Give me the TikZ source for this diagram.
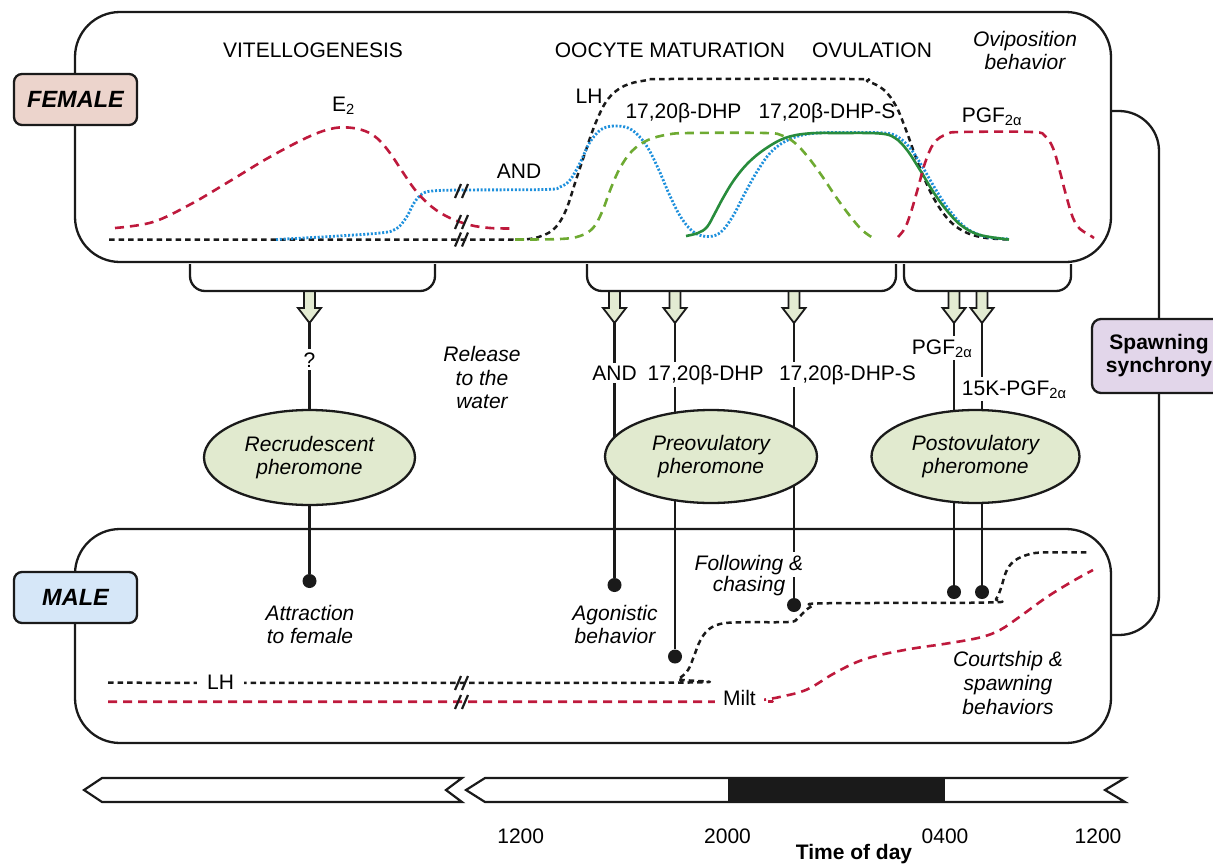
\documentclass[tikz,border=0pt]{standalone}
\usepackage{fontspec}
\setmainfont{Liberation Sans}
\usetikzlibrary{shapes.geometric}
\definecolor{ink}{HTML}{1A1A1A}
\definecolor{curvered}{HTML}{BE193C}
\definecolor{curveblue}{HTML}{1E90DC}
\definecolor{curvegreen}{HTML}{6EAA32}
\definecolor{curvedark}{HTML}{288C3C}
\definecolor{pherfill}{HTML}{E1EACF}
\definecolor{arrowfill}{HTML}{E3EBD2}
\definecolor{femfill}{HTML}{ECD4CC}
\definecolor{malefill}{HTML}{D6E7F8}
\definecolor{spawnfill}{HTML}{E2D6EA}
\begin{document}
\begin{tikzpicture}[x=1pt, y=-1pt, font=\fontsize{21}{23}\selectfont, line join=round,
  box/.style={draw=ink, line width=2.3pt, rounded corners=45pt, inner sep=0pt, minimum width=1036pt},
  tag/.style={draw=ink, line width=2.3pt, rounded corners=8pt, minimum width=123pt, minimum height=51pt,
    inner sep=0pt, font=\fontsize{23.5}{26}\selectfont\bfseries\itshape},
  pher/.style={ellipse, draw=ink, fill=pherfill, line width=2.3pt, inner sep=0pt, align=center,
    font=\fontsize{21}{22.3}\selectfont\itshape},
  lbl/.style={anchor=base, inner sep=0pt},
  cut/.style={anchor=base, fill=white, inner xsep=2pt, inner ysep=3pt},
  conn/.style={draw=ink, line width=2.3pt},
  hit/.style={circle, fill=ink, minimum size=14pt, inner sep=0pt},
  harrow/.style={draw=ink, fill=arrowfill, line width=1.8pt, line join=miter},
  bracket/.style={draw=ink, line width=2.3pt, rounded corners=15pt},
  redd/.style={draw=curvered, line width=2.6pt, dash pattern=on 9pt off 6pt},
  lhd/.style={draw=ink, line width=2.5pt, dash pattern=on 5.5pt off 4pt},
  blued/.style={draw=curveblue, line width=2.8pt, dash pattern=on 2pt off 1.8pt},
  greend/.style={draw=curvegreen, line width=2.6pt, dash pattern=on 9pt off 6pt},
  greens/.style={draw=curvedark, line width=2.6pt},
  brk/.style={draw=ink, line width=2.2pt},
  bar/.style={draw=ink, line width=2.2pt, line join=miter}]
\useasboundingbox (0,0) rectangle (1213,865);

% ---------- panels ----------
\node[box, minimum height=250pt] (fem) at (593,137) {};
\node[box, minimum height=214pt] (mal) at (593,636) {};
\node[tag, fill=femfill] (femtag) at (75.5,99.5) {FEMALE};
\node[tag, fill=malefill] (maltag) at (75.5,597.5) {MALE};

% ---------- female hormone profiles ----------
\draw[lhd] plot[smooth, tension=0.6] coordinates {(109,239.5) (461,239.5) (520,239.5) (540,236.5) (555,228) (566,210) (576,180) (586,150) (596,122) (608,99) (624,86) (645,80.5) (670,79) (850,79) (868,81.5) (884,90) (896,106) (906,130) (918,163) (932,195) (947,218) (963,231) (983,237.5) (1009,239.5)};
\draw[blued] plot[smooth, tension=0.6] coordinates {(276,239.5) (330,236.5) (380,233) (396,229) (406,218) (414,203) (422,194) (432,191) (461,190) (545,189.5) (560,187) (570,180) (580,163) (590,142) (602,129) (617,126) (632,130) (646,145) (658,168) (670,196) (682,219) (695,233) (709,236.5) (721,232) (733,216) (745,193) (758,170) (772,151) (790,139) (812,133.5) (845,132.5) (884,133) (898,137) (910,148) (922,166) (936,190) (950,211) (966,228) (985,236.5) (1009,239)};
\draw[greend] plot[smooth, tension=0.6] coordinates {(515,239.5) (560,239) (580,236) (593,228) (602,212) (611,188) (620,168) (632,151) (648,140) (668,134.5) (690,133) (765,133) (782,135.5) (795,143) (808,157) (822,176) (836,197) (850,216) (862,230) (873,238)};
\draw[greens] plot[smooth, tension=0.6] coordinates {(686,236) (698,233) (707,227) (715,213) (723,198) (734,180) (748,163) (765,149) (785,138) (808,133.5) (840,133) (880,133.5) (895,138) (907,150) (920,170) (934,193) (948,212) (962,226) (980,235) (1009,239.5)};
\draw[redd] plot[smooth, tension=0.6] coordinates {(115,228) (153,222) (191,204) (230,181) (268,158) (306,138) (330,129) (348,127.5) (365,131) (378,139) (390,153) (402,171) (416,191) (432,207) (450,218) (470,225) (490,228) (513,228.5)};
\draw[redd] plot[smooth, tension=0.6] coordinates {(898,237) (905,228) (911,212) (918,188) (925,163) (934,143) (947,134) (962,132) (1032,132) (1045,136) (1053,148) (1059,168) (1066,195) (1073,218) (1080,229) (1088,234) (1094,238)};
\foreach \y in {191,222,239.5} {
  \draw[brk] (455,\y+7) -- (461,\y-7);
  \draw[brk] (462,\y+7) -- (468,\y-7);
}

% ---------- female labels ----------
\node[lbl] (vit) at (313,57) {VITELLOGENESIS};
\node[lbl] (oocyte) at (670,57.3) {OOCYTE MATURATION};
\node[lbl] (ovul) at (872,57.3) {OVULATION};
\node[lbl, font=\fontsize{21}{23}\selectfont\itshape] (ovi1) at (1025,46.5) {Oviposition};
\node[lbl, font=\fontsize{21}{23}\selectfont\itshape] (ovi2) at (1025,69.5) {behavior};
\node[lbl] (lhF) at (589,103.3) {LH};
\node[lbl] (dhpF) at (683.5,118) {17,20β-DHP};
\node[lbl] (dhpsF) at (827,118) {17,20β-DHP-S};
\node[lbl, anchor=base west] (pgfF) at (961.6,122) {PGF\textsubscript{2α}};
\node[lbl, anchor=base west] (e2) at (332,111.7) {E\textsubscript{2}};
\node[lbl] (andF) at (519,178.3) {AND};

% ---------- brackets and release arrows ----------
\foreach \ax in {309.5,614.5,675,794,954,982}
  \draw[harrow] (\ax-5.5,291) -- (\ax-5.5,308) -- (\ax-11.5,308) -- (\ax,323) -- (\ax+11.5,308) -- (\ax+5.5,308) -- (\ax+5.5,291) -- cycle;
\draw[bracket] (190,264) -- (190,291) -- (435,291) -- (435,264);
\draw[bracket] (587,264) -- (587,291) -- (896,291) -- (896,264);
\draw[bracket] (904,264) -- (904,291) -- (1071,291) -- (1071,264);

\coordinate (tQ) at (309.5,323);
\coordinate (tAND) at (614.5,323);
\coordinate (tDHP) at (675,323);
\coordinate (tDHPS) at (794,323);
\coordinate (tPGF) at (954,323);
\coordinate (tK) at (982,323);

% ---------- male responses ----------
\node[hit] (dQ) at (309.5,581) {};
\node[hit] (dAND) at (614.5,585) {};
\node[hit] (dDHP) at (675,656.5) {};
\node[hit] (dDHPS) at (794,605) {};
\node[hit] (dPGF) at (954,592) {};
\node[hit] (dK) at (982,592) {};
\draw[conn] (tQ) -- (dQ);
\draw[conn] (tAND) -- (dAND);
\draw[conn] (tDHP) -- (dDHP);
\draw[conn] (tDHPS) -- (dDHPS);
\draw[conn] (tPGF) -- (dPGF);
\draw[conn] (tK) -- (dK);

% ---------- pheromones ----------
\node[pher, minimum width=211pt, minimum height=95pt] (recr) at (309.5,457.5) {Recrudescent\\pheromone};
\node[pher, minimum width=212pt, minimum height=93pt] (preov) at (711,456.5) {Preovulatory\\pheromone};
\node[pher, minimum width=208pt, minimum height=93pt] (postov) at (975.5,456.5) {Postovulatory\\pheromone};

\node[cut] (qm) at (309.5,367) {?};
\node[cut] (andL) at (614.5,380) {AND};
\node[cut] (dhpL) at (705.7,380) {17,20β-DHP};
\node[cut] (dhpsL) at (847.5,380) {17,20β-DHP-S};
\node[cut, anchor=base west] (pgfL) at (909.7,354) {PGF\textsubscript{2α}};
\node[cut, anchor=base west] (kL) at (959.7,395) {15K-PGF\textsubscript{2α}};
\begin{scope}[every node/.style={lbl, font=\fontsize{21}{23}\selectfont\itshape}]
\node (rel1) at (482,361) {Release};
\node (rel2) at (482,385) {to the};
\node (rel3) at (482,408.3) {water};
\end{scope}

% ---------- spawning synchrony ----------
\node[draw=ink, fill=spawnfill, line width=2.3pt, rounded corners=9pt, minimum width=134pt, minimum height=74pt,
  inner sep=0pt, align=center, font=\fontsize{21}{23}\selectfont\bfseries] (spawn) at (1159,356) {Spawning\\synchrony};
\coordinate (fR) at (1111,111);
\coordinate (mR) at (1111,635);
\draw[conn, rounded corners=40pt] (fR) -| (spawn.north);
\draw[conn, rounded corners=40pt] (spawn.south) |- (mR);

% ---------- male profiles ----------
\draw[lhd] plot[smooth, tension=0.6] coordinates {(108,682.7) (665,682.7) (678,679) (688,670) (694,656) (700,641) (708,630) (720,624) (740,622.3) (788,622) (797,619) (804,612) (812,606) (825,603.3) (988,602.5) (996,599) (1001,588) (1006,572) (1013,562) (1025,555.5) (1042,552.5) (1090,552.5)};
\draw[redd] plot[smooth, tension=0.6] coordinates {(108,701.7) (720,701.7) (745,701) (762,700) (782,696.5) (807,689.5) (833,674) (857,662) (880,655) (913,648.5) (947,643.5) (980,637.5) (1000,630) (1020,616.5) (1047,597) (1073,581) (1093,570)};
\foreach \y in {683,702} {
  \draw[brk] (455,\y+7) -- (461,\y-7);
  \draw[brk] (462,\y+7) -- (468,\y-7);
}
\node[cut, inner xsep=10.5pt] (lhM) at (220.5,689.3) {LH};
\node[cut, inner xsep=8pt] (milt) at (739.5,705) {Milt};

\begin{scope}[every node/.style={lbl, font=\fontsize{21}{23}\selectfont\itshape}]
\node (att1) at (310,620) {Attraction};
\node (att2) at (310,643.3) {to female};
\node (ago1) at (615,620) {Agonistic};
\node (ago2) at (615,643) {behavior};
\node[fill=white, inner xsep=2pt, inner ysep=3pt] (fol1) at (749,570) {Following \&};
\node (fol2) at (749,591.7) {chasing};
\node (crt1) at (1008,666.7) {Courtship \&};
\node (crt2) at (1008,690) {spawning};
\node (crt3) at (1008,714) {behaviors};
\end{scope}

% ---------- time of day ----------
\fill[ink] (728,778) rectangle (945,802);
\draw[bar] (84,790) -- (102,778) -- (462,778) -- (446,790) -- (462,802) -- (102,802) -- cycle;
\draw[bar] (466,790) -- (485,778) -- (1125,778) -- (1105,790) -- (1125,802) -- (485,802) -- cycle;
\node[lbl] (t1) at (520.7,843.3) {1200};
\node[lbl] (t2) at (727.5,843.3) {2000};
\node[lbl] (t3) at (945,843.3) {0400};
\node[lbl] (t4) at (1098,843.3) {1200};
\node[lbl, font=\fontsize{21}{23}\selectfont\bfseries] (tod) at (854,859.5) {Time of day};
\end{tikzpicture}
\end{document}
